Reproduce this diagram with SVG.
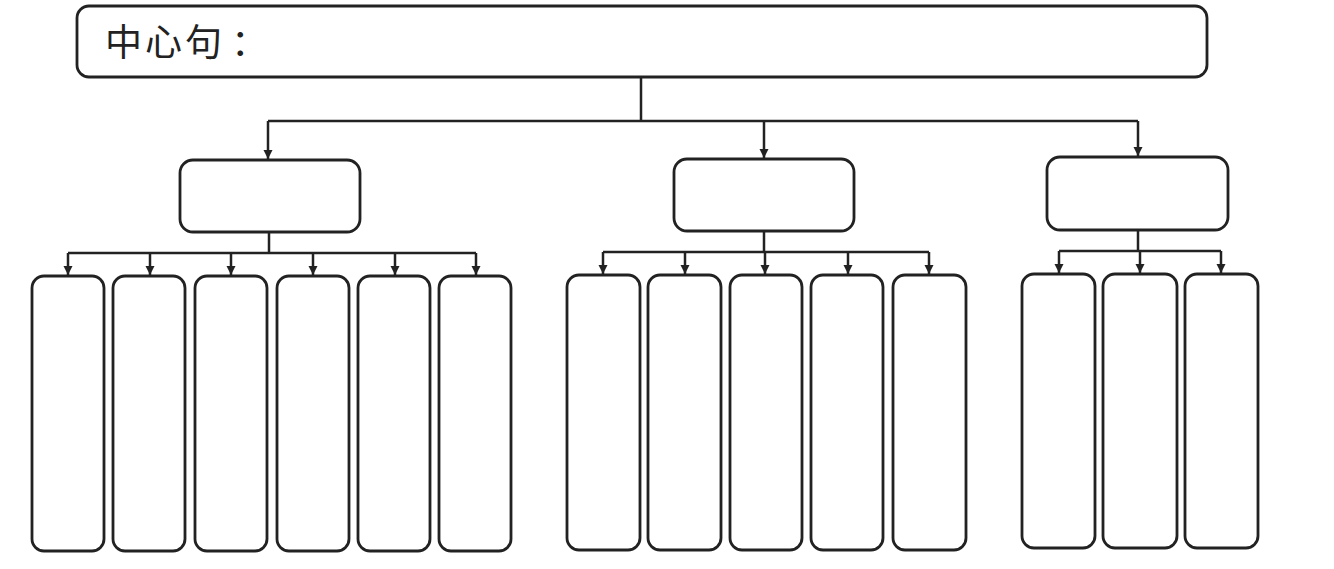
<svg xmlns="http://www.w3.org/2000/svg" width="1334" height="569" viewBox="0 0 1334 569">
<defs>
<style>
.box{fill:#fff;stroke:#222;stroke-width:2.8}
.con{fill:none;stroke:#222;stroke-width:2.5}
.lbl{font-family:"Noto Sans CJK SC","Noto Sans",sans-serif;font-size:37px;letter-spacing:3px;fill:#222}
</style>
<marker id="arr" markerUnits="userSpaceOnUse" markerWidth="10" markerHeight="10" refX="9" refY="5" orient="auto">
<path d="M0,0.5 L9,5 L0,9.5 Z" fill="#222"/>
</marker>
</defs>
<rect width="1334" height="569" fill="#fff"/>
<g id="connectors" class="con">
<path d="M641,77 V121 M268,121 H1138"/>
<path d="M268,121 V159" marker-end="url(#arr)"/>
<path d="M764,121 V158" marker-end="url(#arr)"/>
<path d="M1138,121 V156" marker-end="url(#arr)"/>
<path d="M269,232 V253 M68,253 H476"/>
<path d="M68,253 V275" marker-end="url(#arr)"/>
<path d="M150,253 V275" marker-end="url(#arr)"/>
<path d="M231,253 V275" marker-end="url(#arr)"/>
<path d="M313,253 V275" marker-end="url(#arr)"/>
<path d="M395,253 V275" marker-end="url(#arr)"/>
<path d="M476,253 V275" marker-end="url(#arr)"/>
<path d="M764,231 V252 M603,252 H929"/>
<path d="M603,252 V274" marker-end="url(#arr)"/>
<path d="M685,252 V274" marker-end="url(#arr)"/>
<path d="M765,252 V274" marker-end="url(#arr)"/>
<path d="M848,252 V274" marker-end="url(#arr)"/>
<path d="M929,252 V274" marker-end="url(#arr)"/>
<path d="M1138,230 V251 M1059,251 H1221"/>
<path d="M1059,251 V273" marker-end="url(#arr)"/>
<path d="M1140,251 V273" marker-end="url(#arr)"/>
<path d="M1221,251 V273" marker-end="url(#arr)"/>
</g>
<g id="top">
<rect class="box" x="77" y="6" width="1130" height="71" rx="12"/>
<text class="lbl" x="105" y="56">中心句<tspan dx="6">：</tspan></text>
</g>
<g id="mid1"><rect class="box" x="180" y="160" width="180" height="72" rx="13"/></g>
<g id="mid2"><rect class="box" x="674" y="159" width="180" height="72" rx="13"/></g>
<g id="mid3"><rect class="box" x="1047" y="157" width="181" height="73" rx="13"/></g>
<g id="c1"><rect class="box" x="32" y="276" width="72" height="275" rx="12"/></g>
<g id="c2"><rect class="box" x="113" y="276" width="72" height="275" rx="12"/></g>
<g id="c3"><rect class="box" x="195" y="276" width="72" height="275" rx="12"/></g>
<g id="c4"><rect class="box" x="277" y="276" width="72" height="275" rx="12"/></g>
<g id="c5"><rect class="box" x="358" y="276" width="72" height="275" rx="12"/></g>
<g id="c6"><rect class="box" x="439" y="276" width="72" height="275" rx="12"/></g>
<g id="c7"><rect class="box" x="567" y="275" width="73" height="275" rx="12"/></g>
<g id="c8"><rect class="box" x="648" y="275" width="73" height="275" rx="12"/></g>
<g id="c9"><rect class="box" x="730" y="275" width="72" height="275" rx="12"/></g>
<g id="c10"><rect class="box" x="811" y="275" width="72" height="275" rx="12"/></g>
<g id="c11"><rect class="box" x="893" y="275" width="73" height="275" rx="12"/></g>
<g id="c12"><rect class="box" x="1022" y="274" width="73" height="274" rx="12"/></g>
<g id="c13"><rect class="box" x="1103" y="274" width="74" height="274" rx="12"/></g>
<g id="c14"><rect class="box" x="1185" y="274" width="73" height="274" rx="12"/></g>
</svg>
